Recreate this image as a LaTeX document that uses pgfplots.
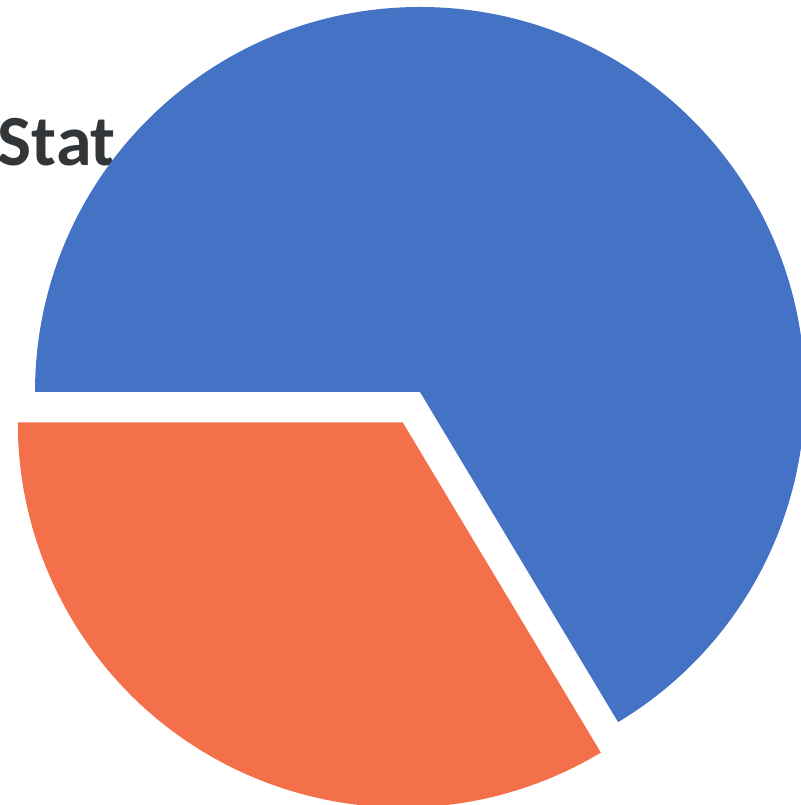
\documentclass[border=0pt]{standalone}
\usepackage{pgfplots}
\pgfplotsset{compat=1.18}
\usepackage{pgfplotstable}
\usepackage{fontspec}
\setmainfont{Carlito}
\definecolor{pieblue}{HTML}{4472C4}
\definecolor{pieorange}{HTML}{F4704A}
\definecolor{titlegray}{HTML}{333638}
% slice values (percent) and explode offset (px)
\pgfplotstableread{
label value explode
A 66.4 0
B 33.6 35
}\piedata
\begin{document}%
\begin{tikzpicture}
\pgfplotstablegetelem{0}{value}\of\piedata \let\va\pgfplotsretval
\pgfplotstablegetelem{1}{value}\of\piedata \let\vb\pgfplotsretval
\pgfplotstablegetelem{0}{explode}\of\piedata \let\ea\pgfplotsretval
\pgfplotstablegetelem{1}{explode}\of\piedata \let\eb\pgfplotsretval
\pgfmathsetmacro{\tot}{\va+\vb}
\pgfmathsetmacro{\fa}{\va/\tot}
\pgfmathsetmacro{\fb}{\vb/\tot}
\pgfmathsetmacro{\aA}{180}
\pgfmathsetmacro{\aB}{180-360*\fa}
\pgfmathsetmacro{\aC}{\aB-360*\fb}
\pgfmathsetmacro{\mA}{(\aA+\aB)/2}
\pgfmathsetmacro{\mB}{(\aB+\aC)/2}
\pgfmathsetmacro{\cxA}{420+\ea*cos(\mA)}
\pgfmathsetmacro{\cyA}{413+\ea*sin(\mA)}
\pgfmathsetmacro{\cxB}{420+\eb*cos(\mB)}
\pgfmathsetmacro{\cyB}{413+\eb*sin(\mB)}
\def\R{385}
\useasboundingbox (0,0) rectangle (240.3pt,241.5pt);
\clip (0,0) rectangle (240.3pt,241.5pt);
\begin{axis}[
  x=0.3pt, y=0.3pt,
  xmin=0, xmax=801, ymin=0, ymax=805,
  hide axis, scale only axis,
  at={(0,0)}, anchor=south west,
  clip=true,
]
\addplot[draw=none] coordinates {(0,0) (801,805)};
\node[anchor=base west, inner sep=0pt, text=titlegray,
      font=\bfseries\fontsize{21.6}{24}\selectfont] at (axis cs:-3,639) {Stat};
\fill[pieblue] (axis cs:\cxA,\cyA) -- (axis cs:{\cxA+\R*cos(\aA)},{\cyA+\R*sin(\aA)})
   arc[start angle=\aA, end angle=\aB, radius=\R*0.3pt] -- cycle;
\fill[pieorange] (axis cs:\cxB,\cyB) -- (axis cs:{\cxB+\R*cos(\aB)},{\cyB+\R*sin(\aB)})
   arc[start angle=\aB, end angle=\aC, radius=\R*0.3pt] -- cycle;
\end{axis}
\end{tikzpicture}%
\end{document}
